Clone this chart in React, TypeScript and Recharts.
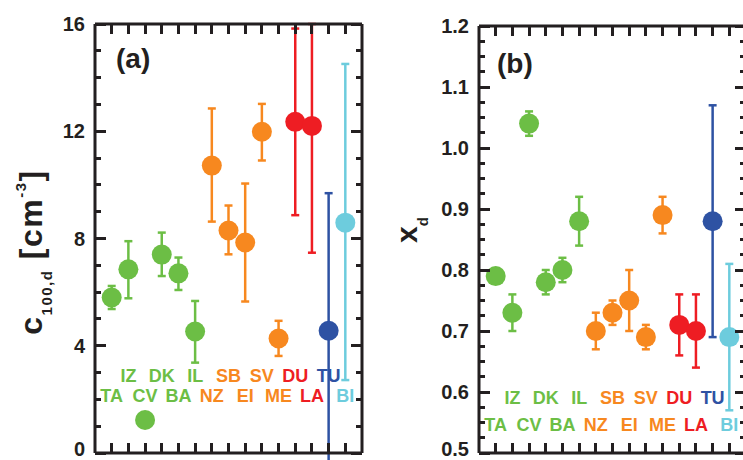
import { ScatterChart, Scatter, XAxis, YAxis, ErrorBar } from "recharts";

const stations = ["TA", "IZ", "CV", "DK", "BA", "IL", "NZ", "SB", "EI", "SV", "ME", "DU", "LA", "TU", "BI"];
const stationGroups = ["green", "green", "green", "green", "green", "green", "orange", "orange", "orange", "orange", "orange", "red", "red", "blue", "cyan"];

// panel (a): c100,d [cm-3]
const concValues = [5.8, 6.85, 1.23, 7.4, 6.7, 4.53, 10.72, 8.3, 7.85, 11.98, 4.27, 12.35, 12.2, 4.56, 8.59];
const concLow = [5.37, 5.77, 1.23, 6.6, 6.08, 3.37, 8.63, 7.41, 5.65, 10.91, 3.62, 8.87, 7.47, -0.4, 2.72];
const concHigh = [6.23, 7.9, 1.23, 8.22, 7.29, 5.67, 12.85, 9.23, 10.05, 13.02, 4.93, 15.83, 16, 9.69, 14.51];
const concTickLabels = [0, 4, 8, 12, 16];

// panel (b): xd
const xdValues = [0.79, 0.73, 1.04, 0.78, 0.8, 0.88, 0.7, 0.73, 0.75, 0.69, 0.89, 0.71, 0.7, 0.88, 0.69];
const xdLow = [0.79, 0.7, 1.02, 0.76, 0.78, 0.84, 0.67, 0.71, 0.7, 0.67, 0.86, 0.66, 0.64, 0.69, 0.57];
const xdHigh = [0.79, 0.76, 1.06, 0.8, 0.82, 0.92, 0.73, 0.75, 0.8, 0.71, 0.92, 0.76, 0.76, 1.07, 0.81];
const xdTickLabels = [0.5, 0.6, 0.7, 0.8, 0.9, 1.0, 1.1, 1.2];

const groupColors: Record<string, string> = {
  green: "#6cbe45",
  orange: "#f7881f",
  red: "#ee1d23",
  blue: "#2e52a3",
  cyan: "#6dccdd",
};
const INK = "#231f20";
const FONT = "'Liberation Sans', Arial, Helvetica, sans-serif";
const X_DOMAIN = [0, 16];

const xTicks = stations.map((_, i) => i + 1);

function minorTicks(lo: number, hi: number, step: number) {
  const n = Math.round((hi - lo) / step);
  return Array.from({ length: n + 1 }, (_, i) => +(lo + i * step).toFixed(4));
}

const isMajor = (v: number, majors: number[]) => majors.some((m) => Math.abs(m - v) < 1e-6);

// inward tick marks of the frame, laid over the chart
function FrameTicks({ box, domain, majors, step }: any) {
  const { left, right, top, bottom } = box;
  const sy = (v: number) => bottom - ((v - domain[0]) / (domain[1] - domain[0])) * (bottom - top);
  const sx = (v: number) => left + ((v - X_DOMAIN[0]) / (X_DOMAIN[1] - X_DOMAIN[0])) * (right - left);
  const minors = minorTicks(domain[0], domain[1], step);
  const mark = (key: string, x: number, y: number, w: number, h: number) => (
    <div key={key} style={{ position: "absolute", left: x, top: y, width: w, height: h, background: INK }} />
  );
  const out: any[] = [];
  minors.forEach((v) => {
    const len = isMajor(v, majors) ? 11 : 6;
    out.push(mark("l" + v, left, sy(v) - 1.5, len, 3));
    out.push(mark("r" + v, right - len, sy(v) - 1.5, len, 3));
  });
  xTicks.forEach((t) => {
    out.push(mark("b" + t, sx(t) - 1.5, bottom - 10, 3, 10));
    out.push(mark("t" + t, sx(t) - 1.5, top, 3, 10));
  });
  return <>{out}</>;
}

function Panel(props: any) {
  const { values, low, high, domain, majors, fmt, labelRows, box, offsetX, letter, letterPos, title } = props;
  const rows = stations.map((name, i) => ({
    x: i + 1,
    y: values[i],
    err: [values[i] - low[i], high[i] - values[i]],
    group: stationGroups[i],
  }));
  const labels = stations.map((name, i) => ({
    x: i + 1,
    y: labelRows[i % 2 === 0 ? 1 : 0],
    name,
    color: groupColors[stationGroups[i]],
  }));
  const line = { stroke: INK, strokeWidth: 3 };
  const margin = {
    top: box.top,
    bottom: 460 - box.bottom,
    left: box.left - offsetX - 60,
    right: 380 - (box.right - offsetX),
  };

  return (
    <ScatterChart width={380} height={460} margin={margin} style={{ fontFamily: FONT }}>
      <XAxis xAxisId="b" type="number" dataKey="x" mirror stroke={INK} domain={X_DOMAIN} ticks={xTicks} allowDataOverflow axisLine={line} tickLine={false} tick={false} />
      <XAxis
        xAxisId="t"
        orientation="top"
        type="number"
        mirror
        stroke={INK}
        domain={X_DOMAIN}
        ticks={xTicks}
        allowDataOverflow
        axisLine={line}
        tickLine={false}
        tick={false}
        label={{
          content: () => (
            <text x={letterPos[0]} y={letterPos[1]} fontSize={28} fontWeight="bold" fill={INK} fontFamily={FONT}>
              {letter}
            </text>
          ),
        }}
      />
      <YAxis
        yAxisId="l"
        type="number"
        dataKey="y"
        stroke={INK}
        domain={domain}
        ticks={majors}
        interval={0}
        width={60}
        allowDataOverflow
        axisLine={line}
        tickLine={false}
        tickSize={0}
        tickMargin={0}
        tick={(p: any) => (
          <text
            key={p.index}
            x={p.x - 10}
            y={p.payload.value === domain[0] ? p.y - 4 : p.y}
            textAnchor="end"
            dominantBaseline="central"
            fontSize={20}
            fontWeight="bold"
            fill={INK}
            fontFamily={FONT}
          >
            {fmt(p.payload.value)}
          </text>
        )}
        label={{ content: title }}
      />
      <YAxis yAxisId="r" orientation="right" mirror type="number" stroke={INK} domain={domain} ticks={majors} allowDataOverflow axisLine={line} tickLine={false} tick={false} />
      <Scatter
        xAxisId="b"
        yAxisId="l"
        data={labels}
        isAnimationActive={false}
        shape={(p: any) => (
          <text x={p.cx} y={p.cy} textAnchor="middle" dominantBaseline="central" fontSize={18} fontWeight="bold" fill={p.payload.color} fontFamily={FONT}>
            {p.payload.name}
          </text>
        )}
      />
      {Object.keys(groupColors).map((g) => (
        <Scatter
          key={g}
          xAxisId="b"
          yAxisId="l"
          data={rows.filter((r) => r.group === g)}
          isAnimationActive={false}
          fill={groupColors[g]}
          shape={(p: any) => <circle cx={p.cx} cy={p.cy} r={10} fill={groupColors[g]} />}
        >
          <ErrorBar dataKey="err" direction="y" width={4} strokeWidth={2.5} stroke={groupColors[g]} isAnimationActive={false} />
        </Scatter>
      ))}
    </ScatterChart>
  );
}

const titleA = () => (
  <text transform="translate(42,252) rotate(-90)" textAnchor="middle" fontSize={32} fontWeight="bold" fill={INK} fontFamily={FONT} letterSpacing={1.5}>
    <tspan>c</tspan>
    <tspan fontSize={15} dy={10}>100,d</tspan>
    <tspan dy={-10}>{" [cm"}</tspan>
    <tspan fontSize={15} dy={-16}>-3</tspan>
    <tspan dy={16}>]</tspan>
  </text>
);

const titleB = () => (
  <text transform="translate(37,230) rotate(-90)" textAnchor="middle" fontSize={30} fontWeight="bold" fill={INK} fontFamily={FONT}>
    <tspan>x</tspan>
    <tspan fontSize={15} dy={11}>d</tspan>
  </text>
);

const boxA = { left: 95, right: 362, top: 24, bottom: 453 };
const boxB = { left: 479, right: 746, top: 26, bottom: 453 };

export default function App() {
  return (
    <div style={{ position: "absolute", left: 0, top: 0, width: 743, height: 460, overflow: "hidden", background: "#fff" }}>
      <div style={{ position: "absolute", left: 0, top: 0 }}>
        <Panel
          values={concValues}
          low={concLow}
          high={concHigh}
          domain={[0, 16]}
          majors={concTickLabels}
          fmt={(v: number) => String(v)}
          labelRows={[2.87, 2.13]}
          box={boxA}
          offsetX={0}
          letter="(a)"
          letterPos={[116, 68]}
          title={titleA}
        />
      </div>
      <div style={{ position: "absolute", left: 380, top: 0 }}>
        <Panel
          values={xdValues}
          low={xdLow}
          high={xdHigh}
          domain={[0.5, 1.2]}
          majors={xdTickLabels}
          fmt={(v: number) => v.toFixed(1)}
          labelRows={[0.59, 0.546]}
          box={boxB}
          offsetX={380}
          letter="(b)"
          letterPos={[117, 73]}
          title={titleB}
        />
      </div>
      <FrameTicks box={boxA} domain={[0, 16]} majors={concTickLabels} step={1} />
      <FrameTicks box={boxB} domain={[0.5, 1.2]} majors={xdTickLabels} step={0.025} />
    </div>
  );
}
